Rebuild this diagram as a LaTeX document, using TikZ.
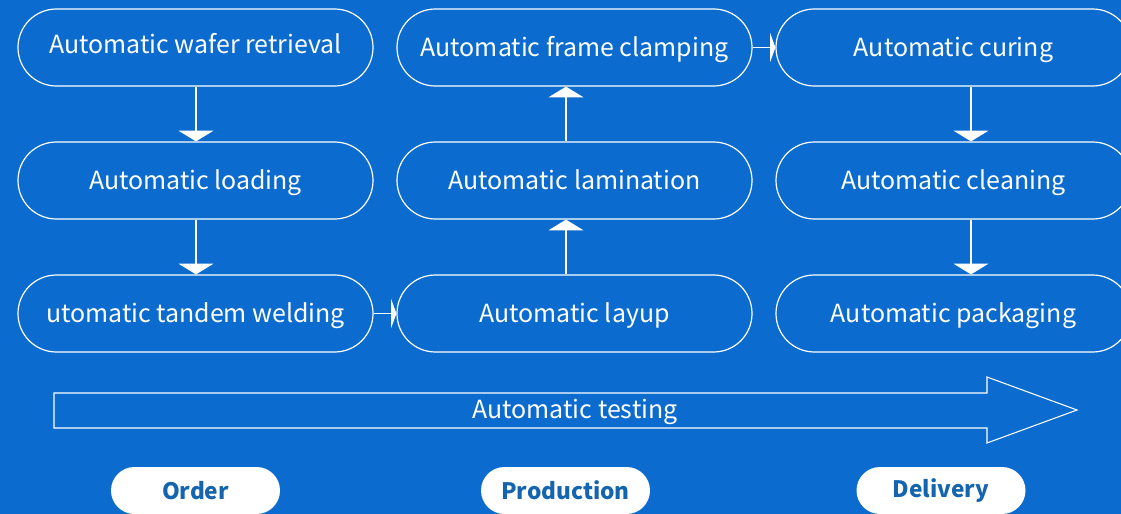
\documentclass[tikz,border=0pt]{standalone}
\usepackage{fontspec}
\setmainfont{Noto Sans CJK SC}
\usetikzlibrary{arrows.meta,calc}
\definecolor{bgblue}{RGB}{11,107,207}
\definecolor{pilltext}{RGB}{20,100,175}
\begin{document}
\begin{tikzpicture}[x=0.75pt,y=-0.75pt,
  stepbox/.style={draw=white, line width=0.9pt, minimum width=266.25pt, minimum height=57.75pt,
    inner sep=0pt, rounded corners=28.8pt, text=white, text height=18pt, text depth=4.5pt,
    font=\fontsize{18.7}{22}\selectfont},
  phase/.style={fill=white, minimum width=126.75pt, minimum height=35.25pt, rounded corners=17.6pt,
    inner sep=0pt, text=pilltext, font=\fontsize{17}{21}\selectfont\bfseries},
  vflow/.style={draw=white, line width=0.8pt, -{Triangle[width=26pt,length=8pt]}},
  hflow/.style={draw=white, line width=0.8pt, -{Triangle[width=22pt,length=4pt]}},
  bigarrow/.style={draw=white, line width=0.8pt},
]
\useasboundingbox (0,0) rectangle (1121,514);
\clip (0,0) rectangle (1121,514);
\fill[bgblue] (0,0) rectangle (1121,514);

% column 1
\node[stepbox] (r1c1) at (195.5,47.5) {\raisebox{2.6pt}{Automatic wafer retrieval}};
\node[stepbox] (r2c1) at (195.5,180.5) {Automatic loading};
\node[stepbox] (r3c1) at (195.5,313.5) {utomatic tandem welding};
% column 2
\node[stepbox] (r1c2) at (574.5,47.5) {Automatic frame clamping};
\node[stepbox] (r2c2) at (574.5,180.5) {Automatic lamination};
\node[stepbox] (r3c2) at (574.5,313.5) {Automatic layup};
% column 3
\node[stepbox] (r1c3) at (953.5,47.5) {Automatic curing};
\node[stepbox] (r2c3) at (953.5,180.5) {Automatic cleaning};
\node[stepbox] (r3c3) at (953.5,313.5) {Automatic packaging};

\coordinate (ax1) at (196,0);
\coordinate (ax2) at (566,0);
\coordinate (ax3) at (971,0);

\draw[vflow] (r1c1.south -| ax1) -- (r2c1.north -| ax1);
\draw[vflow] (r2c1.south -| ax1) -- (r3c1.north -| ax1);
\draw[hflow] (r3c1.east) -- (r3c2.west);
\draw[vflow] (r3c2.north -| ax2) -- (r2c2.south -| ax2);
\draw[vflow] (r2c2.north -| ax2) -- (r1c2.south -| ax2);
\draw[hflow] (r1c2.east) -- (r1c3.west);
\draw[vflow] (r1c3.south -| ax3) -- (r2c3.north -| ax3);
\draw[vflow] (r2c3.south -| ax3) -- (r3c3.north -| ax3);

% testing arrow
\draw[bigarrow] (54,393) -- (987,393) -- (987,377) -- (1077,410) -- (987,443) -- (987,428) -- (54,428) -- cycle;
\node[text=white, font=\fontsize{18.7}{22}\selectfont, inner sep=0pt] (test) at (575,412) {Automatic testing};

% phases
\node[phase] (order) at (195.5,490.5) {Order};
\node[phase] (prod) at (565.5,490.5) {Production};
\node[phase] (deliv) at (941,490.5) {Delivery};
\end{tikzpicture}
\end{document}
